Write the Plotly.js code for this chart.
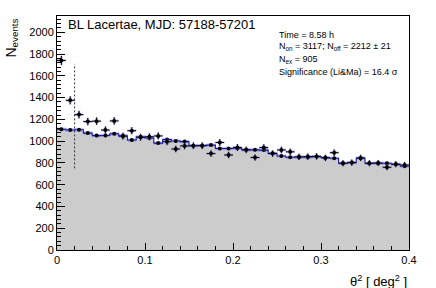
<!DOCTYPE html>
<html><head><meta charset="utf-8">
<script src="https://cdn.plot.ly/plotly-3.0.1.min.js"></script>
<style>html,body{margin:0;padding:0;background:#fff;}#chart{width:436px;height:288px;}</style>
</head><body><div id="chart"></div>
<script>
// theta^2 bin centres [deg^2]
const thetaSq = [0.005,0.015,0.025,0.035,0.045,0.055,0.065,0.075,0.085,0.095,
  0.105,0.115,0.125,0.135,0.145,0.155,0.165,0.175,0.185,0.195,
  0.205,0.215,0.225,0.235,0.245,0.255,0.265,0.275,0.285,0.295,
  0.305,0.315,0.325,0.335,0.345,0.355,0.365,0.375,0.385,0.395];
const binHalfWidth = 0.005;
// ON events per bin
const onCounts = [1742,1375,1244,1180,1184,1102,1186,1046,1096,1036,
  1040,1048,995,928,956,958,958,886,988,873,
  942,920,850,941,886,919,902,856,858,860,
  846,894,797,803,846,797,799,760,788,781];
// OFF (normalised) events per bin
const offCounts = [1109,1103,1105,1074,1051,1052,1068,1050,1010,1040,
  1030,982,1015,1002,996,958,960,964,932,932,
  934,920,920,918,888,864,852,852,852,858,
  850,843,797,803,843,797,797,797,788,770];
const offErr = [16,16,16,16,15,15,16,15,15,15,
  15,15,15,15,15,15,15,15,15,15,
  15,15,15,15,15,14,14,14,14,14,
  14,14,14,14,14,14,14,14,14,14];
const onErr = onCounts.map(v => Math.sqrt(v));
const thetaCut = 0.02;
const cutLine = [750, 1710];
const titleText = 'BL Lacertae, MJD: 57188-57201';
const infoLines = ['Time = 8.58 h',
  'N<sub>on</sub> = 3117; N<sub>off</sub> = 2212 ± 21',
  'N<sub>ex</sub> = 905',
  'Significance (Li&Ma) = 16.4 σ'];

// step representation built from bin edges
const edges = thetaSq.map(c => c - binHalfWidth).concat([thetaSq[thetaSq.length-1] + binHalfWidth]);
const stepOf = arr => arr.concat([arr[arr.length-1]]);
const offUp = offCounts.map((v,i)=>v+offErr[i]);
const offLo = offCounts.map((v,i)=>v-offErr[i]);

const FONT = '"Liberation Sans", Arial, Helvetica, sans-serif';
const traces = [
  {x: edges, y: stepOf(offCounts), type:'scatter', mode:'lines', line:{shape:'hv', width:0, color:'#cccccc'},
   fill:'tozeroy', fillcolor:'#cccccc', hoverinfo:'skip'},
  {x: edges, y: stepOf(offLo), type:'scatter', mode:'lines', line:{shape:'hv', width:0}, hoverinfo:'skip'},
  {x: edges, y: stepOf(offUp), type:'scatter', mode:'lines', line:{shape:'hv', width:0},
   fill:'tonexty', fillcolor:'rgba(120,120,235,0.5)', hoverinfo:'skip'},
  {x: edges, y: stepOf(offCounts), type:'scatter', mode:'lines', line:{shape:'hv', width:1.1, color:'#1a1aa8'}},
  {x: thetaSq, y: offCounts, type:'scatter', mode:'markers', marker:{size:4, color:'#000'}},
  {x: thetaSq, y: onCounts, type:'scatter', mode:'markers', marker:{size:1, color:'rgba(0,0,0,0)'},
   error_x:{type:'constant', value:binHalfWidth, width:0, thickness:2.6, color:'rgba(130,130,240,0.45)'},
   error_y:{type:'data', array:onErr, width:0, thickness:2.6, color:'rgba(130,130,240,0.45)'}},
  {x: thetaSq, y: onCounts, type:'scatter', mode:'markers', marker:{size:4, color:'#000'},
   error_x:{type:'constant', value:binHalfWidth, width:0, thickness:1, color:'#000'},
   error_y:{type:'data', array:onErr, width:0, thickness:1, color:'#000'}}
];

const pxY = p => (250 - p) / 234;
const annotations = [
  {text:titleText, xref:'paper', yref:'paper', x:0.025, y:pxY(25), xanchor:'left', yanchor:'middle',
   showarrow:false, font:{family:FONT, size:13, color:'#000'}},
  {text:'N<sub>events</sub>', xref:'paper', yref:'paper', x:(11-57)/352, y:pxY(17), xanchor:'center', yanchor:'top',
   textangle:-90, showarrow:false, font:{family:FONT, size:14, color:'#000'}},
  {text:'θ<sup>2</sup> [ deg<sup>2</sup> ]', xref:'paper', yref:'paper', x:1, y:pxY(281), xanchor:'right', yanchor:'middle',
   showarrow:false, font:{family:FONT, size:13, color:'#000'}}
];
const infoY = [34.5, 46.5, 59.5, 71.5];
infoLines.forEach((t,i)=>annotations.push({text:t, xref:'paper', yref:'paper', x:(277-57)/352, y:pxY(infoY[i]),
  xanchor:'left', yanchor:'middle', showarrow:false,
  font:{family:'"Liberation Sans Narrow", "Liberation Sans", Arial, sans-serif', size:9, color:'#000'}}));

const layout = {
  width:436, height:288, margin:{l:57, r:27, t:16, b:38},
  paper_bgcolor:'#fff', plot_bgcolor:'#fff', showlegend:false,
  font:{family:FONT, size:11, color:'#000'},
  xaxis:{range:[0,0.4], dtick:0.1, tick0:0, ticks:'inside', ticklen:7, tickcolor:'#000', tickwidth:1,
    showline:true, mirror:true, linecolor:'#000', linewidth:1, showgrid:false, zeroline:false,
    minor:{dtick:0.02, ticks:'inside', ticklen:4, tickcolor:'#000', showgrid:false},
    tickfont:{family:FONT, size:11, color:'#000'}},
  yaxis:{range:[0,2150], dtick:200, tick0:0, ticks:'inside', ticklen:8, tickcolor:'#000', tickwidth:1,
    showline:true, mirror:true, linecolor:'#000', linewidth:1, showgrid:false, zeroline:false,
    minor:{dtick:40, ticks:'inside', ticklen:4, tickcolor:'#000', showgrid:false},
    tickfont:{family:FONT, size:11, color:'#000'}},
  shapes:[{type:'line', xref:'x', yref:'y', x0:thetaCut, x1:thetaCut, y0:cutLine[0], y1:cutLine[1],
    line:{color:'#333', width:1, dash:'2px,2px'}}],
  annotations:annotations
};
Plotly.newPlot('chart', traces, layout, {staticPlot:true, displayModeBar:false});
</script></body></html>
